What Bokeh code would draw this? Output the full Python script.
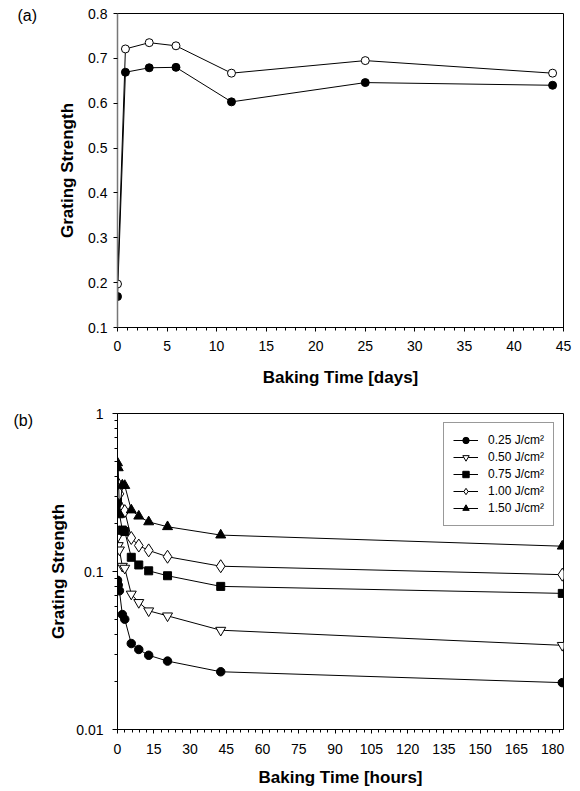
from bokeh.plotting import figure
from bokeh.models import Range1d, FixedTicker, PrintfTickFormatter, CustomJSTickFormatter, Title, Legend, LegendItem
from bokeh.layouts import column
from bokeh.embed import file_html
from bokeh.resources import INLINE

# ---------------- data: panel (a) ----------------
days = [0, 0.8, 3.2, 5.9, 11.5, 25.0, 43.9]
strength_open = [0.197, 0.721, 0.735, 0.728, 0.667, 0.695, 0.667]
strength_filled = [0.169, 0.669, 0.679, 0.680, 0.603, 0.646, 0.640]
a_xticks = [0, 5, 10, 15, 20, 25, 30, 35, 40, 45]
a_yticks = [0.1, 0.2, 0.3, 0.4, 0.5, 0.6, 0.7, 0.8]

# ---------------- data: panel (b) ----------------
hours = [0, 0.3, 0.8, 2, 3, 5.7, 8.8, 12.9, 20.7, 42.7, 184]
g025 = [0.088, 0.082, 0.0755, 0.0534, 0.0499, 0.0350, 0.0321, 0.0295, 0.0271, 0.0232, 0.0198]
g050 = [0.165, 0.146, 0.137, 0.108, 0.105, 0.072, 0.0637, 0.0564, 0.0524, 0.0425, 0.0341]
g075 = [0.284, 0.258, 0.232, 0.183, 0.179, 0.123, 0.110, 0.101, 0.094, 0.0805, 0.0727]
g100 = [0.363, 0.331, 0.310, 0.245, 0.241, 0.163, 0.146, 0.136, 0.124, 0.108, 0.0955]
g150 = [0.487, 0.453, 0.232, 0.352, 0.350, 0.245, 0.224, 0.206, 0.192, 0.170, 0.1446]
doses = ["0.25 J/cm²", "0.50 J/cm²", "0.75 J/cm²", "1.00 J/cm²", "1.50 J/cm²"]
b_xticks = list(range(0, 181, 15))
b_yticks = [0.01, 0.1, 1]

FONT = "Liberation Sans"


def style_axis(ax, tick_out=4, minor_out=3, standoff=5, label_standoff=10):
    ax.major_label_text_font = FONT
    ax.major_label_text_font_size = "14px"
    ax.major_label_text_color = "black"
    ax.axis_label_text_font = FONT
    ax.axis_label_text_font_size = "17px"
    ax.axis_label_text_font_style = "bold"
    ax.axis_label_text_color = "black"
    ax.major_tick_in = 0
    ax.major_tick_out = tick_out
    ax.minor_tick_in = 0
    ax.minor_tick_out = minor_out
    ax.major_tick_line_color = "black"
    ax.minor_tick_line_color = "black"
    ax.axis_line_color = "black"
    ax.major_label_standoff = standoff
    ax.axis_label_standoff = label_standoff


def panel_title(text, offset, standoff):
    return Title(text=text, align="left", offset=offset, standoff=standoff,
                 text_font=FONT, text_font_size="16px", text_font_style="normal",
                 text_color="black")


# ---------------- panel (a) ----------------
pa = figure(width=580, height=395, output_backend="svg", toolbar_location=None,
            x_range=Range1d(0, 45), y_range=Range1d(0.1, 0.8),
            min_border_left=113, min_border_right=17, min_border_top=13, min_border_bottom=68)
pa.title = panel_title("(a)", -100, -21)
pa.grid.visible = False
pa.outline_line_color = "black"
pa.outline_line_width = 1
pa.background_fill_color = "white"
pa.border_fill_color = "white"

pa.xaxis.ticker = FixedTicker(ticks=a_xticks, minor_ticks=list(range(0, 46)))
pa.yaxis.ticker = FixedTicker(ticks=a_yticks, minor_ticks=[])
pa.yaxis.formatter = PrintfTickFormatter(format="%.1f")
pa.xaxis.axis_label = "Baking Time [days]"
pa.yaxis.axis_label = "Grating Strength"
style_axis(pa.xaxis[0], tick_out=4, minor_out=3, standoff=9, label_standoff=14)
style_axis(pa.yaxis[0], tick_out=4, minor_out=0, standoff=6, label_standoff=8)
pa.yaxis.axis_line_color = "#777777"
pa.yaxis.axis_line_width = 1.5

pa.line(days, strength_open, line_color="black", line_width=1)
pa.line(days, strength_filled, line_color="black", line_width=1)
pa.scatter(days, strength_open, marker="circle", size=8, fill_color="white", line_color="black", line_width=1)
pa.scatter(days, strength_filled, marker="circle", size=8, fill_color="black", line_color="black", line_width=1)

# ---------------- panel (b) ----------------
pb = figure(width=580, height=396, output_backend="svg", toolbar_location=None,
            x_range=Range1d(0, 184.5), y_range=Range1d(0.01, 1), y_axis_type="log",
            min_border_left=117, min_border_right=11, min_border_top=18, min_border_bottom=62)
pb.title = panel_title("(b)", -104, -30)
pb.grid.visible = False
pb.outline_line_color = "black"
pb.outline_line_width = 1
pb.background_fill_color = "white"
pb.border_fill_color = "white"

pb.xaxis.ticker = FixedTicker(ticks=b_xticks, minor_ticks=list(range(0, 185, 3)))
minor_log = [m * d for d in (0.01, 0.1) for m in range(2, 10)]
pb.yaxis.ticker = FixedTicker(ticks=b_yticks, minor_ticks=minor_log)
pb.yaxis.formatter = CustomJSTickFormatter(code="return tick.toString();")
pb.xaxis.axis_label = "Baking Time [hours]"
pb.yaxis.axis_label = "Grating Strength"
style_axis(pb.xaxis[0], tick_out=4, minor_out=3, standoff=10, label_standoff=11)
style_axis(pb.yaxis[0], tick_out=5, minor_out=3, standoff=9, label_standoff=5)

series = [
    (g025, "circle", "black", 8.5),
    (g050, "inverted_triangle", "white", 10),
    (g075, "square", "black", 8),
    (g100, "diamond", "white", 13),
    (g150, "triangle", "black", 10),
]
items = []
for (vals, mk, fill, sz), lab in zip(series, doses):
    r1 = pb.line(hours, vals, line_color="black", line_width=1)
    r2 = pb.scatter(hours, vals, marker=mk, size=sz, fill_color=fill, line_color="black", line_width=1)
    items.append(LegendItem(label=lab, renderers=[r1, r2]))

legend = Legend(items=items, location=(326, 203), margin=0, padding=9, spacing=1,
                glyph_width=25, glyph_height=16, label_height=16, label_standoff=10,
                label_text_font=FONT, label_text_font_size="12px", label_text_color="black",
                border_line_color="#333333", border_line_width=1,
                background_fill_color="white", background_fill_alpha=1)
pb.add_layout(legend)

layout = column(pa, pb)
open("out.html", "w").write(file_html(layout, INLINE))
